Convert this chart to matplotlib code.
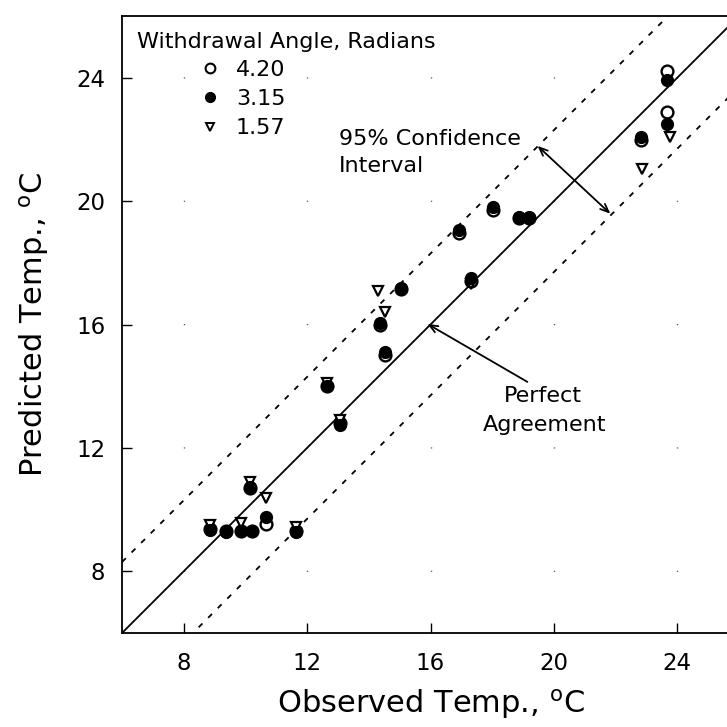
import matplotlib
matplotlib.use("Agg")
import matplotlib.pyplot as plt
from matplotlib.lines import Line2D
import numpy as np

# ---- data ----
obs_420 = [8.85, 9.38, 9.86, 10.22, 10.16, 10.67, 11.65, 12.65, 13.06, 14.35, 14.54, 15.03, 16.92, 17.30, 18.03, 18.86, 19.19, 22.83, 23.65, 23.65]
pred_420 = [9.38, 9.30, 9.30, 9.30, 10.70, 9.52, 9.30, 14.00, 12.80, 16.00, 15.00, 17.15, 18.98, 17.40, 19.70, 19.45, 19.45, 21.97, 24.22, 22.90]

obs_315 = [8.85, 9.38, 9.86, 10.22, 10.16, 10.67, 11.65, 12.65, 13.06, 14.35, 14.54, 15.03, 16.92, 17.30, 18.03, 18.86, 19.19, 22.83, 23.65, 23.68]
pred_315 = [9.34, 9.29, 9.31, 9.31, 10.72, 9.77, 9.29, 14.02, 12.74, 16.06, 15.12, 17.18, 19.05, 17.50, 19.80, 19.48, 19.48, 22.08, 23.91, 22.50]

obs_157 = [8.85, 9.86, 10.16, 10.67, 11.65, 12.65, 13.06, 14.31, 14.54, 17.30, 22.86, 23.76]
pred_157 = [9.50, 9.57, 10.88, 10.36, 9.45, 14.10, 12.90, 17.08, 16.40, 17.30, 21.05, 22.08]

angle_labels = ["4.20", "3.15", "1.57"]
ci_half_width = 2.3
xticks = [8, 12, 16, 20, 24]
yticks = [8, 12, 16, 20, 24]

FONT = "DejaVu Sans"
plt.rcParams["font.family"] = [FONT]
plt.rcParams["mathtext.fontset"] = "custom"
plt.rcParams["mathtext.rm"] = FONT

W = 727
fig = plt.figure(figsize=(7.27, 7.27), dpi=100)
# axes box in pixels: left 122, bottom 633 (from top), size 617 (extends past the right edge)
ax = fig.add_axes([122 / W, (W - 633) / W, 617 / W, 617 / W])
ax.set_xlim(6, 26)
ax.set_ylim(6, 26)

# faint specks at grid intersections (period = 4 data units = 88.8 pt, first speck at y=8)
for v in xticks:
    ax.axvline(v, color="0.3", lw=1.0, linestyle=(44.4, (0.8, 88.0)), zorder=0)

# perfect agreement and 95% CI lines
lx = np.array([6.0, 26.0])
ax.plot(lx, lx, color="black", lw=1.3, zorder=2)
ax.plot(lx, lx + ci_half_width, color="black", lw=1.3, linestyle=(0, (3.0, 4.5)), zorder=2)
ax.plot(lx, lx - ci_half_width, color="black", lw=1.3, linestyle=(0, (3.0, 4.5)), zorder=2)

# data
ms = 8.5
ax.plot(obs_420, pred_420, linestyle="none", marker="o", ms=ms, mfc="white", mec="black", mew=1.7, zorder=3)
ax.plot(obs_157, pred_157, linestyle="none", marker="v", ms=7.5, mfc="white", mec="black", mew=1.6, zorder=3)
ax.plot(obs_315, pred_315, linestyle="none", marker="o", ms=ms, mfc="black", mec="black", mew=1.0, zorder=4)

# legend
title_fs = 16
ax.text(0.024, 0.958, "Withdrawal Angle, Radians", transform=ax.transAxes,
        fontsize=title_fs, ha="left", va="center")
handles = [
    Line2D([], [], linestyle="none", marker="o", ms=7, mfc="white", mec="black", mew=1.5),
    Line2D([], [], linestyle="none", marker="o", ms=7, mfc="black", mec="black"),
    Line2D([], [], linestyle="none", marker="v", ms=6, mfc="white", mec="black", mew=1.4),
]
leg = ax.legend(handles, angle_labels, loc="upper left", bbox_to_anchor=(0.125, 0.929),
                frameon=False, fontsize=title_fs, handlelength=1.0, handletextpad=0.65,
                labelspacing=0.42, borderpad=0, borderaxespad=0)

# annotations
ann_fs = 16
ax.text(13.02, 22.02, "95% Confidence", fontsize=ann_fs, ha="left", va="center")
ax.text(13.02, 21.15, "Interval", fontsize=ann_fs, ha="left", va="center")
ax.annotate("", xy=(21.83, 19.59), xytext=(19.47, 21.79),
            arrowprops=dict(arrowstyle="<->,head_length=0.6,head_width=0.25", color="black", lw=1.3,
                            shrinkA=0, shrinkB=0))
ax.text(19.63, 13.69, "Perfect", fontsize=ann_fs, ha="center", va="center")
ax.text(19.70, 12.74, "Agreement", fontsize=ann_fs, ha="center", va="center")
ax.annotate("", xy=(15.90, 16.02), xytext=(19.14, 14.14),
            arrowprops=dict(arrowstyle="->,head_length=0.6,head_width=0.25", color="black", lw=1.3,
                            shrinkA=0, shrinkB=0))

# axes styling
ax.set_xticks(xticks)
ax.set_yticks(yticks)
ax.tick_params(direction="in", length=7, width=1.0, labelsize=16.5)
ax.tick_params(axis="x", pad=14)
ax.tick_params(axis="y", pad=12)
for s in ["left", "bottom", "top"]:
    ax.spines[s].set_linewidth(1.3)
ax.spines["right"].set_visible(False)

ax.set_xlabel(r"Observed Temp., $^{\mathrm{o}}$C", fontsize=22, labelpad=8)
ax.set_ylabel(r"Predicted Temp., $^{\mathrm{o}}$C", fontsize=22, labelpad=18)

fig.savefig("out.png", dpi=100)
